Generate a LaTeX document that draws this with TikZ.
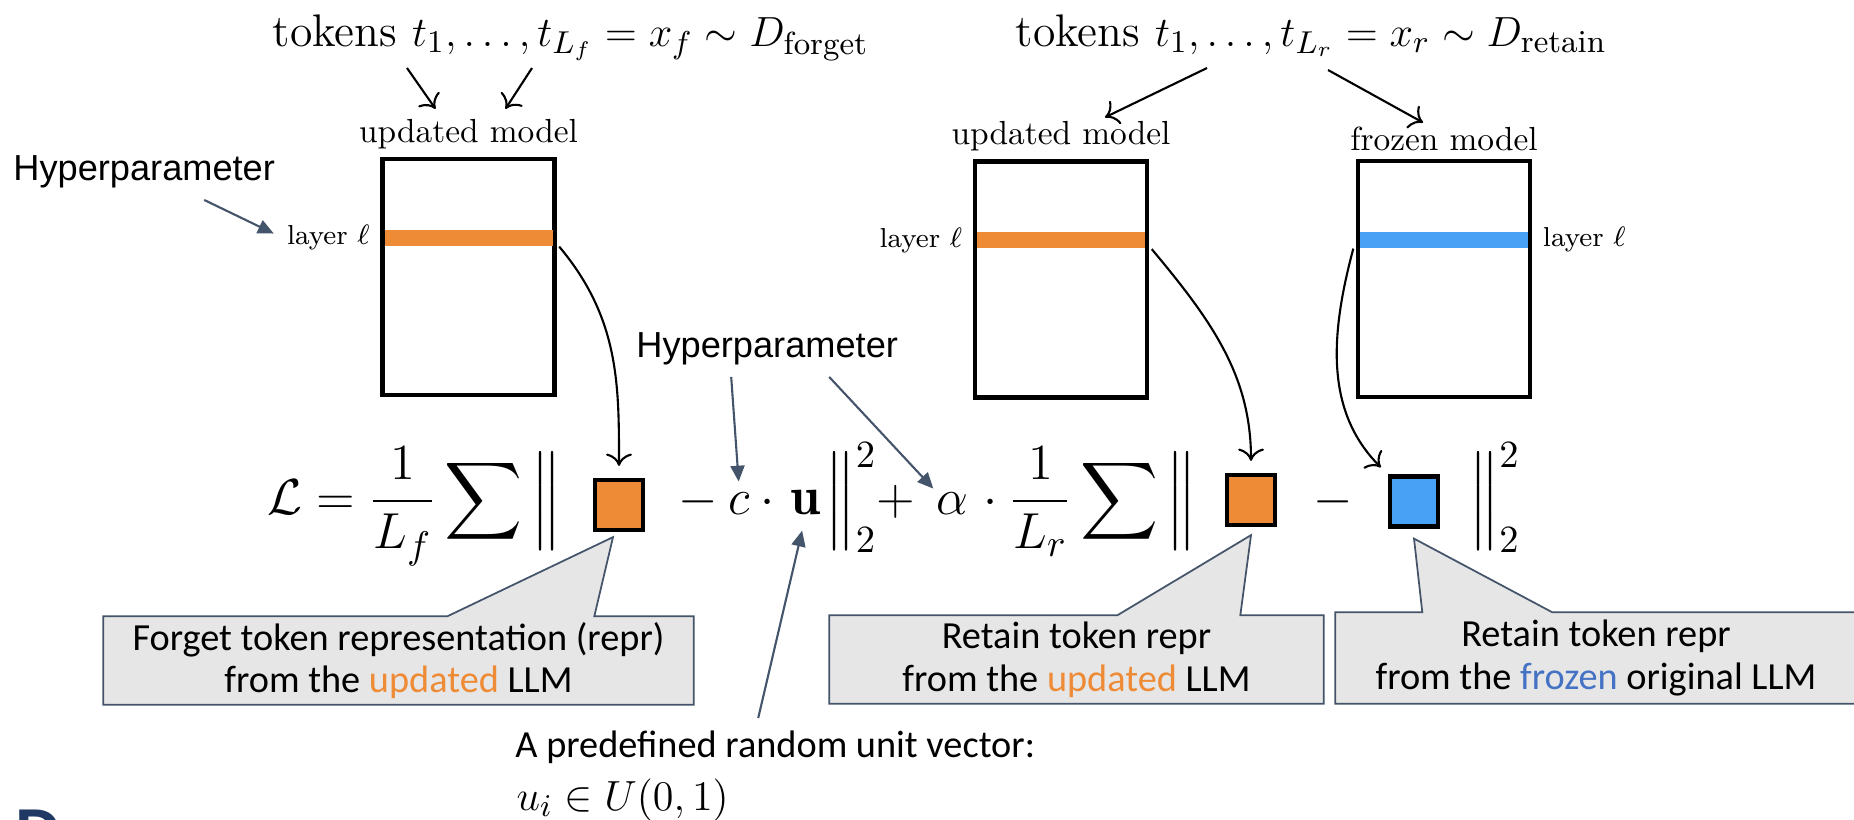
\documentclass[tikz,border=0pt]{standalone}
\usepackage{amsmath}
\usepackage{amssymb}
\usepackage{fontspec}
\setsansfont{Liberation Sans}
\newfontfamily\notefont{Carlito}
\usepackage{tikz}
\usetikzlibrary{
	arrows.meta,
	positioning,
	calc,
	backgrounds
}
\usepackage{xcolor}

\definecolor{forgetorange}{RGB}{237,139,54}
\definecolor{frozenblue}{RGB}{72,161,245}
\definecolor{frozentext}{RGB}{68,114,196}
\definecolor{slate}{RGB}{68,84,106}
\definecolor{notegray}{RGB}{231,230,230}
\definecolor{titleblue}{RGB}{31,56,100}

\tikzset{
	model/.style={draw,line width=1.2pt,minimum width=1.72cm,minimum height=2.36cm,inner sep=0pt},
	layerbar/.style={minimum width=1.68cm,minimum height=0.16cm,inner sep=0pt},
	modellabel/.style={font=\fontsize{9.5}{11}\selectfont,inner sep=1pt},
	layerlabel/.style={font=\fontsize{7.8}{9}\selectfont,inner sep=1pt},
	tokenset/.style={anchor=base west,inner sep=0pt,font=\fontsize{13}{15}\selectfont},
	repr/.style={draw,line width=1.2pt,minimum width=0.48cm,minimum height=0.5cm,inner sep=0pt},
	mathpart/.style={anchor=base west,inner sep=0pt,font=\fontsize{15.4}{18}\selectfont},
	hyper/.style={anchor=base west,font=\sffamily\fontsize{10.3}{12}\selectfont},
	hyparrow/.style={-{Triangle[length=4.5pt,width=4pt]},draw=slate,line width=0.6pt},
	note/.style={font=\notefont\fontsize{10.9}{12.2}\selectfont,align=center,inner sep=0pt,minimum height=0.87cm},
	callout/.style={fill=notegray,draw=slate,line width=0.5pt}
}

\begin{document}
\begin{tikzpicture}[>={To[scale=1.2]}]
	\useasboundingbox (0,0) rectangle (18.54,-8.19);
	
	% token sets
	\node[tokenset] (tokf) at (2.72,-0.46)
	{tokens $t_1,\ldots,t_{L_f}=x_f\sim D_{\text{forget}}$};
	\node[tokenset] (tokr) at (10.15,-0.46)
	{tokens $t_1,\ldots,t_{L_r}=x_r\sim D_{\text{retain}}$};
	
	% models
	\node[model] (modf) at (4.685,-2.77) {};
	\node[model] (modru) at (10.61,-2.795) {};
	\node[model] (modrf) at (14.44,-2.79) {};
	
	\node[layerbar,fill=forgetorange] (barf) at ([yshift=-0.81cm]modf.north) {};
	\node[layerbar,fill=forgetorange] (barru) at ([yshift=-0.81cm]modru.north) {};
	\node[layerbar,fill=frozenblue] (barrf) at ([yshift=-0.81cm]modrf.north) {};
	
	\node[modellabel,above=0.04cm of modf] (labf) {updated model};
	\node[modellabel,above=0.04cm of modru] (labru) {updated model};
	\node[modellabel,above=0.04cm of modrf] (labrf) {frozen model};
	
	\node[layerlabel,left=0.1cm of barf] (layf) {layer $\ell$};
	\node[layerlabel,left=0.1cm of barru] (layru) {layer $\ell$};
	\node[layerlabel,right=0.1cm of barrf] (layrf) {layer $\ell$};
	
	\coordinate (tf1) at (4.07,-0.68);
	\coordinate (tf2) at (5.32,-0.68);
	\coordinate (tr1) at (12.07,-0.68);
	\coordinate (tr2) at (13.28,-0.70);
	
	\draw[->,line width=0.6pt] (tf1)--([xshift=-0.33cm,yshift=0.06cm]labf.north);
	\draw[->,line width=0.6pt] (tf2)--([xshift=0.37cm,yshift=0.06cm]labf.north);
	\draw[->,line width=0.6pt] (tr1)--([xshift=0.44cm]labru.north);
	\draw[->,line width=0.6pt] (tr2)--([xshift=-0.21cm]labrf.north);
	
	% loss
	\node[mathpart] (lhs) at (2.67,-5.14) {$\displaystyle\mathcal{L}=\frac{1}{L_f}\sum\Big\|$};
	\node[repr,fill=forgetorange] (sqf) at (6.19,-5.05) {};
	\node[mathpart] (minf) at (6.775,-5.14) {$-$};
	\node[mathpart] (cvar) at (7.28,-5.14) {$c$};
	\node[mathpart] (cdot) at (7.595,-5.14) {$\cdot$};
	\node[mathpart] (uvec) at (7.90,-5.14) {$\mathbf{u}$};
	\node[mathpart] (normf) at (8.25,-5.14) {$\Big\|_2^2+$};
	\node[mathpart] (alpha) at (9.36,-5.14) {$\alpha$};
	\node[mathpart] (fracr) at (9.72,-5.14) {$\displaystyle{}\cdot\frac{1}{L_r}\sum\Big\|$};
	\node[repr,fill=forgetorange] (sqr1) at (12.51,-5.00) {};
	\node[mathpart] (minr) at (13.125,-5.14) {$-$};
	\node[repr,fill=frozenblue] (sqr2) at (14.14,-5.015) {};
	\node[mathpart] (normr) at (14.685,-5.14) {$\Big\|_2^2$};
	
	\draw[->,line width=0.6pt,shorten >=0.12cm] ([xshift=0.06cm]barf.south east)
	to[out=-50,in=90] (sqf.north);
	\draw[->,line width=0.6pt,shorten >=0.12cm] ([xshift=0.06cm]barru.south east)
	to[out=-50,in=90] (sqr1.north);
	\draw[->,line width=0.6pt,shorten >=0.1cm] ([xshift=-0.06cm]barrf.south west)
	to[out=-105,in=135] (sqr2.north west);
	
	% hyperparameters
	\node[hyper] (hypl) at (0.01,-1.80) {Hyperparameter};
	\node[hyper] (hypm) at (6.24,-3.57) {Hyperparameter};
	
	\draw[hyparrow,shorten >=0.1cm] ([xshift=0.6cm]hypl.south)--(layf.west);
	\draw[hyparrow,shorten >=0.1cm] ([xshift=-0.36cm]hypm.south)--(cvar.north);
	\draw[hyparrow,shorten >=0.04cm] ([xshift=0.62cm]hypm.south)--(alpha.north west);
	
	% callouts
	\node[note,minimum width=5.89cm] (notef) at (3.985,-6.605)
	{Forget token representation (repr)\\from the \textcolor{forgetorange}{updated} LLM};
	\node[note,minimum width=4.93cm] (noteru) at (10.765,-6.595)
	{Retain token repr\\from the \textcolor{forgetorange}{updated} LLM};
	\node[note,minimum width=5.20cm,minimum height=0.9cm] (noterf) at (15.96,-6.58)
	{Retain token repr\\from the \textcolor{frozentext}{frozen} original LLM};
	
	\begin{scope}[on background layer]
		\draw[callout] (notef.south west)--(notef.north west)--([xshift=3.44cm]notef.north west)
		--([xshift=-0.06cm,yshift=-0.05cm]sqf.south)--([xshift=4.91cm]notef.north west)
		--(notef.north east)--(notef.south east)--cycle;
		\draw[callout] (noteru.south west)--(noteru.north west)--([xshift=2.88cm]noteru.north west)
		--([yshift=-0.08cm]sqr1.south)--([xshift=4.11cm]noteru.north west)
		--(noteru.north east)--(noteru.south east)--cycle;
		\draw[callout] (noterf.south west)--(noterf.north west)--([xshift=0.87cm]noterf.north west)
		--([yshift=-0.1cm]sqr2.south)--([xshift=2.17cm]noterf.north west)
		--(noterf.north east)--(noterf.south east)--cycle;
	\end{scope}
	
	% random vector
	\node[anchor=base west,font=\notefont\fontsize{10.9}{12.2}\selectfont] (vecnote) at (5.03,-7.57)
	{A predefined random unit vector:};
	\node[anchor=base west,inner sep=0pt,font=\fontsize{12.5}{15}\selectfont] (vecdist)
	at ([xshift=0.128cm,yshift=-0.53cm]vecnote.base west) {$u_i\in U(0,1)$};
	
	\draw[hyparrow,shorten >=0.16cm] ([xshift=-0.17cm]vecnote.north)--(uvec.south);
	
	\node[anchor=base west,inner sep=0pt,text=titleblue,font=\sffamily\bfseries\fontsize{18}{20}\selectfont]
	(slidemark) at (0.15,-8.53) {D};
	
\end{tikzpicture}
\end{document}
